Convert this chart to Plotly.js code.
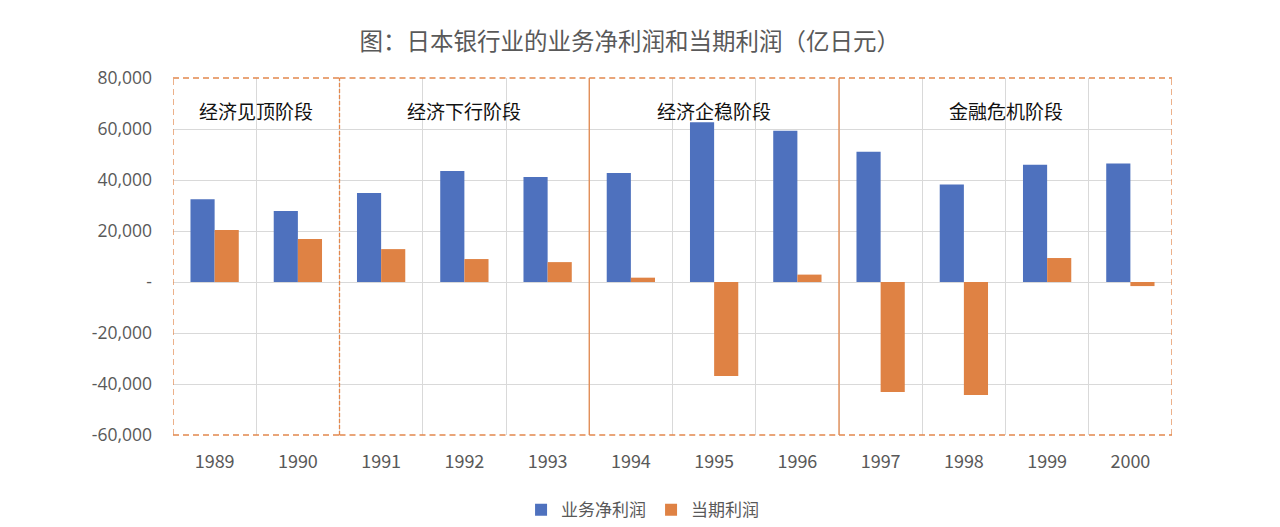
<!DOCTYPE html>
<html><head><meta charset="utf-8">
<script src="https://cdn.plot.ly/plotly-3.0.1.min.js"></script>
<style>html,body{margin:0;padding:0;background:#fff;}#chart{width:1280px;height:527px;}</style>
</head><body><div id="chart"></div>
<script>
const years = ['1989','1990','1991','1992','1993','1994','1995','1996','1997','1998','1999','2000'];
const netBusinessProfit = [32500, 27800, 34900, 43500, 41200, 42700, 62600, 59300, 51100, 38200, 46000, 46500];
const currentProfit = [20400, 16900, 12900, 9000, 7800, 1700, -36900, 2900, -43100, -44300, 9400, -1600];
const seriesNames = ['业务净利润', '当期利润'];
const phaseLabels = ['经济见顶阶段', '经济下行阶段', '经济企稳阶段', '金融危机阶段'];
const phaseBounds = [-0.5, 1.5, 4.5, 7.5, 11.5];
const yTickVals = [80000, 60000, 40000, 20000, 0, -20000, -40000, -60000];
const yTickText = ['80,000','60,000','40,000','20,000','-','-20,000','-40,000','-60,000'];

const font = '"Noto Sans CJK SC", "Noto Sans", sans-serif';
const data = [
  {type:'bar', name:seriesNames[0], x:years, y:netBusinessProfit, marker:{color:'#4E71BE'}},
  {type:'bar', name:seriesNames[1], x:years, y:currentProfit, marker:{color:'#DF8244'}}
];
const shapes = [];
const annotations = [];
const orange = '#E2884E';
const dashed = {color:orange, width:1.3, dash:'6px,4px'};
for (let i = 0; i < phaseLabels.length; i++) {
  const x0 = phaseBounds[i], x1 = phaseBounds[i+1];
  shapes.push({type:'line', xref:'x', yref:'paper', x0:x0, x1:x1, y0:1, y1:1, line:dashed});
  shapes.push({type:'line', xref:'x', yref:'paper', x0:x0, x1:x1, y0:0, y1:0, line:dashed});
  annotations.push({xref:'x', yref:'paper', x:(x0+x1)/2, y:0.91, yanchor:'middle', text:phaseLabels[i], showarrow:false, font:{family:font, size:19, color:'#111'}});
}
shapes.push({type:'line', xref:'x', yref:'paper', x0:-0.5, x1:-0.5, y0:0, y1:1, line:dashed});
shapes.push({type:'line', xref:'x', yref:'paper', x0:11.5, x1:11.5, y0:0, y1:1, line:dashed});
shapes.push({type:'line', xref:'x', yref:'paper', x0:1.5, x1:1.5, y0:0, y1:1, line:{color:orange, width:1.3, dash:'4px,2px'}});
shapes.push({type:'line', xref:'x', yref:'paper', x0:4.5, x1:4.5, y0:0, y1:1, line:{color:orange, width:1.3}});
shapes.push({type:'line', xref:'x', yref:'paper', x0:7.5, x1:7.5, y0:0, y1:1, line:{color:orange, width:1.3}});

const layout = {
  width:1280, height:527,
  margin:{l:173, r:108, t:78, b:92},
  paper_bgcolor:'#fff', plot_bgcolor:'#fff',
  title:{text:'图：日本银行业的业务净利润和当期利润（亿日元）', x:0.492, xref:'container', xanchor:'center', y:0.92, yref:'container', yanchor:'middle', font:{family:font, size:23.5, color:'#595959'}},
  font:{family:font},
  barmode:'group', bargap:0.42, bargroupgap:0,
  xaxis:{type:'category', tickson:'boundaries', showgrid:true, gridcolor:'#D9D9D9', gridwidth:1, ticks:'', showline:false, zeroline:false,
         ticklabelstandoff:14, tickfont:{family:font, size:18, color:'#595959'}, range:[-0.5, 11.5], automargin:false},
  yaxis:{range:[-60000, 80000], tickvals:yTickVals, ticktext:yTickText, showgrid:true, gridcolor:'#D9D9D9', gridwidth:1,
         zeroline:true, zerolinecolor:'#D9D9D9', zerolinewidth:1, ticks:'', ticklen:0, showline:false, automargin:false,
         ticklabelstandoff:20, tickfont:{family:'"Open Sans", sans-serif', size:17.5, color:'#595959'}},
  legend:{orientation:'h', x:0.502, xref:'container', xanchor:'center', y:0.032, yref:'container', yanchor:'middle', font:{family:font, size:17, color:'#595959'}, traceorder:'normal'},
  shapes:shapes, annotations:annotations,
  showlegend:true
};
Plotly.newPlot('chart', data, layout, {displayModeBar:false, staticPlot:true});
</script></body></html>
